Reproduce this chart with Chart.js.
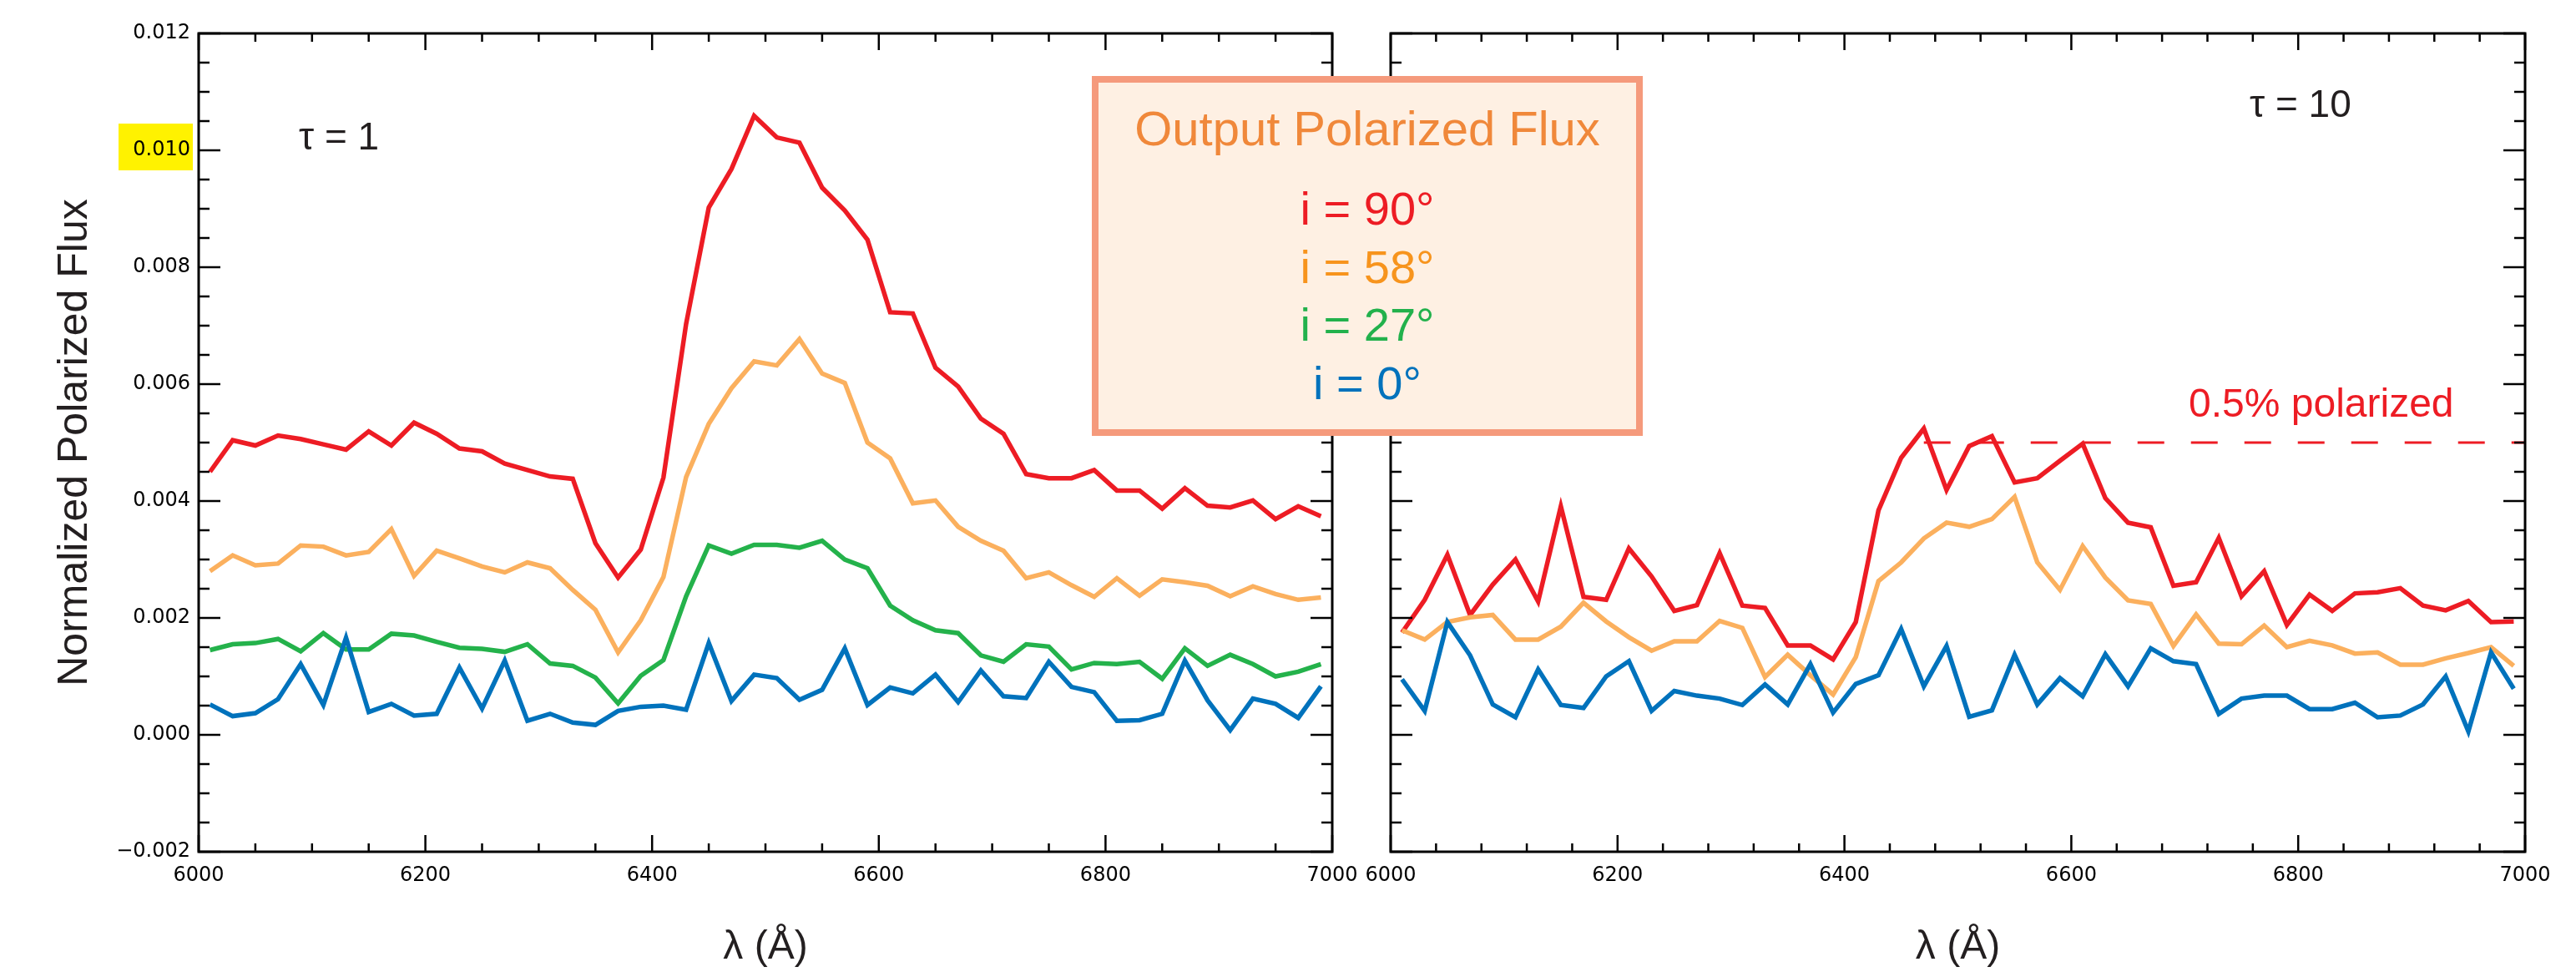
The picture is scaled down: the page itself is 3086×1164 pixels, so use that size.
<!DOCTYPE html>
<html>
<head>
<meta charset="utf-8">
<title>Output Polarized Flux</title>
<script src="https://cdn.jsdelivr.net/npm/chart.js@4.4.1/dist/chart.umd.min.js"></script>
<style>
  html, body { margin: 0; padding: 0; background: #fff; }
  #wrap { position: relative; width: 3086px; height: 1164px; overflow: hidden; font-family: "Liberation Sans", Arial, sans-serif; }
  #wrap canvas { position: absolute; left: 0; top: 0; }
  .note { position: absolute; white-space: nowrap; line-height: 1; }
  #legend { position: absolute; left: 1308px; top: 91px; width: 660px; height: 431px; box-sizing: border-box;
            border: 8px solid #f59a7c; background: #fef0e3; }
  #legend div { position: absolute; left: 0; width: 100%; text-align: center; line-height: 1; white-space: nowrap; }
</style>
</head>
<body>
<div id="wrap">
  <canvas id="tau1Chart" width="3086" height="1164"></canvas>
  <canvas id="tau10Chart" width="3086" height="1164"></canvas>

  <div class="note" style="left:358px; top:140px; font-size:46px; color:#231f20;">&tau; = 1</div>
  <div class="note" style="left:2695px; top:101px; font-size:46px; color:#231f20;">&tau; = 10</div>
  <div class="note" style="left:2622px; top:459px; font-size:48px; color:#ed1c24;">0.5% polarized</div>

  <div id="legend">
    <div style="top:26px; font-size:58px; color:#f0883a;">Output Polarized Flux</div>
    <div style="top:123px; font-size:56px; color:#ed1c24;">i = 90&deg;</div>
    <div style="top:193px; font-size:56px; color:#f7941d;">i = 58&deg;</div>
    <div style="top:262px; font-size:56px; color:#22b14c;">i = 27&deg;</div>
    <div style="top:332px; font-size:56px; color:#0072bc;">i = 0&deg;</div>
  </div>
</div>

<script>
// Wavelength grid (Å)
const wavelengths = [
  6010, 6030, 6050, 6070, 6090, 6110, 6130, 6150, 6170, 6190,
  6210, 6230, 6250, 6270, 6290, 6310, 6330, 6350, 6370, 6390,
  6410, 6430, 6450, 6470, 6490, 6510, 6530, 6550, 6570, 6590,
  6610, 6630, 6650, 6670, 6690, 6710, 6730, 6750, 6770, 6790,
  6810, 6830, 6850, 6870, 6890, 6910, 6930, 6950, 6970, 6990
];

// tau = 1 panel
const tau1_i90 = [
  0.00450, 0.00504, 0.00495, 0.00512, 0.00506, 0.00497, 0.00488, 0.00519, 0.00495, 0.00534,
  0.00515, 0.00490, 0.00485, 0.00464, 0.00453, 0.00442, 0.00438, 0.00328, 0.00269, 0.00317,
  0.00440, 0.00703, 0.00902, 0.00968, 0.01059, 0.01022, 0.01013, 0.00936, 0.00897, 0.00847,
  0.00723, 0.00721, 0.00628, 0.00596, 0.00541, 0.00515, 0.00446, 0.00439, 0.00439, 0.00453,
  0.00418, 0.00418, 0.00387, 0.00422, 0.00392, 0.00389, 0.00401, 0.00369, 0.00391, 0.00374
];
const tau1_i58 = [
  0.00280, 0.00307, 0.00290, 0.00293, 0.00324, 0.00322, 0.00307, 0.00313, 0.00352, 0.00272,
  0.00315, 0.00302, 0.00288, 0.00278, 0.00295, 0.00285, 0.00248, 0.00214, 0.00141, 0.00196,
  0.00270, 0.00441, 0.00532, 0.00593, 0.00639, 0.00632, 0.00677, 0.00618, 0.00602, 0.00500,
  0.00473, 0.00396, 0.00401, 0.00356, 0.00332, 0.00315, 0.00268, 0.00278, 0.00256, 0.00236,
  0.00268, 0.00238, 0.00266, 0.00261, 0.00255, 0.00237, 0.00254, 0.00241, 0.00231, 0.00235
];
const tau1_i27 = [
  0.00145, 0.00155, 0.00157, 0.00164, 0.00143, 0.00174, 0.00146, 0.00146, 0.00173, 0.00170,
  0.00159, 0.00149, 0.00147, 0.00142, 0.00155, 0.00122, 0.00118, 0.00098, 0.00054, 0.00101,
  0.00128, 0.00237, 0.00324, 0.00310, 0.00325, 0.00325, 0.00320, 0.00332, 0.00300, 0.00285,
  0.00221, 0.00196, 0.00179, 0.00174, 0.00136, 0.00125, 0.00155, 0.00151, 0.00112, 0.00123,
  0.00121, 0.00125, 0.00096, 0.00148, 0.00118, 0.00137, 0.00121, 0.00100, 0.00108, 0.00121
];
const tau1_i0 = [
  0.00052, 0.00032, 0.00037, 0.00061, 0.00121, 0.00051, 0.00166, 0.00039, 0.00053, 0.00033,
  0.00036, 0.00115, 0.00045, 0.00127, 0.00024, 0.00036, 0.00021, 0.00017, 0.00041, 0.00048,
  0.00050, 0.00043, 0.00157, 0.00058, 0.00103, 0.00097, 0.00060, 0.00077, 0.00148, 0.00051,
  0.00081, 0.00071, 0.00103, 0.00056, 0.00110, 0.00066, 0.00063, 0.00125, 0.00082, 0.00073,
  0.00024, 0.00025, 0.00036, 0.00127, 0.00059, 0.00008, 0.00062, 0.00053, 0.00029, 0.00083
];

// tau = 10 panel
const tau10_i90 = [
  0.00175, 0.00231, 0.00308, 0.00205, 0.00257, 0.00300, 0.00228, 0.00391, 0.00236, 0.00231,
  0.00319, 0.00271, 0.00212, 0.00222, 0.00311, 0.00221, 0.00217, 0.00153, 0.00153, 0.00129,
  0.00193, 0.00384, 0.00474, 0.00524, 0.00419, 0.00494, 0.00511, 0.00432, 0.00439, 0.00469,
  0.00498, 0.00405, 0.00363, 0.00355, 0.00255, 0.00261, 0.00337, 0.00237, 0.00280, 0.00188,
  0.00240, 0.00212, 0.00242, 0.00244, 0.00251, 0.00221, 0.00213, 0.00229, 0.00193, 0.00194
];
const tau10_i58 = [
  0.00179, 0.00163, 0.00193, 0.00201, 0.00205, 0.00163, 0.00163, 0.00185, 0.00226, 0.00194,
  0.00167, 0.00144, 0.00160, 0.00160, 0.00195, 0.00183, 0.00099, 0.00137, 0.00102, 0.00069,
  0.00133, 0.00263, 0.00295, 0.00336, 0.00363, 0.00356, 0.00369, 0.00407, 0.00295, 0.00248,
  0.00323, 0.00269, 0.00230, 0.00224, 0.00152, 0.00206, 0.00156, 0.00155, 0.00187, 0.00150,
  0.00161, 0.00153, 0.00139, 0.00141, 0.00120, 0.00120, 0.00131, 0.00140, 0.00150, 0.00118
];
const tau10_i0 = [
  0.00095, 0.00041, 0.00193, 0.00136, 0.00052, 0.00030, 0.00112, 0.00051, 0.00046, 0.00100,
  0.00126, 0.00041, 0.00075, 0.00067, 0.00062, 0.00051, 0.00086, 0.00052, 0.00121, 0.00038,
  0.00087, 0.00102, 0.00181, 0.00083, 0.00152, 0.00031, 0.00042, 0.00137, 0.00052, 0.00097,
  0.00066, 0.00138, 0.00083, 0.00148, 0.00126, 0.00121, 0.00036, 0.00062, 0.00067, 0.00067,
  0.00044, 0.00044, 0.00055, 0.00030, 0.00033, 0.00052, 0.00100, 0.00006, 0.00141, 0.00079
];

// 0.5% polarized reference level (tau = 10)
const refLevelX = [6470, 7000];
const refLevelY = [0.005, 0.005];

// axes
const xRange = [6000, 7000];
const yRange = [-0.002, 0.012];
const highlightedTick = 0.010;

const colors = { i90: '#ed1c24', i58: '#fbb05e', i27: '#24b24b', i0: '#0072bc' };

const points = (xs, ys) => xs.map((x, i) => ({ x: x, y: ys[i] }));

const line = (label, values, color, order) => ({
    label: label,
    data: points(wavelengths, values),
    borderColor: color,
    borderWidth: 5.5,
    pointRadius: 0,
    tension: 0,
    fill: false,
    order: order
});

// Inward ticks on all four sides plus the box
const framePlugin = {
    id: 'frame',
    afterDatasetsDraw(chart, args, opts) {
        const { ctx, chartArea: a, scales: { x, y } } = chart;
        ctx.save();
        ctx.strokeStyle = '#000';
        ctx.lineWidth = 2.5;
        ctx.beginPath();
        const nx = Math.round((x.max - x.min) / opts.xMinor);
        for (let k = 0; k <= nx; k++) {
            const v = x.min + k * opts.xMinor;
            const px = x.getPixelForValue(v);
            const len = Math.round(v - x.min) % 200 === 0 ? 20 : 10;
            ctx.moveTo(px, a.bottom); ctx.lineTo(px, a.bottom - len);
            ctx.moveTo(px, a.top); ctx.lineTo(px, a.top + len);
        }
        const ny = Math.round((y.max - y.min) / 0.0005);
        for (let k = 0; k <= ny; k++) {
            const py = y.getPixelForValue(y.min + k * 0.0005);
            const len = k % 4 === 0 ? 26 : 13;
            ctx.moveTo(a.left, py); ctx.lineTo(a.left + len, py);
            ctx.moveTo(a.right, py); ctx.lineTo(a.right - len, py);
        }
        ctx.stroke();
        ctx.lineWidth = 3;
        ctx.strokeRect(a.left, a.top, a.right - a.left, a.bottom - a.top);
        ctx.restore();
    }
};

// Yellow box behind the 0.010 tick label
const highlightPlugin = {
    id: 'highlight',
    beforeDraw(chart, args, opts) {
        if (!opts.enabled) return;
        const { ctx, chartArea: a, scales: { y } } = chart;
        const py = y.getPixelForValue(highlightedTick);
        ctx.save();
        ctx.fillStyle = '#fff200';
        ctx.fillRect(a.left - 96, py - 32, 89, 56);
        ctx.restore();
    }
};

Chart.defaults.font.family = '"DejaVu Sans", sans-serif';
Chart.defaults.color = '#000';

function makeOptions(isLeft, xMinor) {
    return {
        responsive: false,
        animation: false,
        events: [],
        layout: { padding: { left: 0, top: 40, right: isLeft ? 3086 - 1596 : 61, bottom: 0 } },
        plugins: {
            legend: { display: false },
            tooltip: { enabled: false },
            frame: { xMinor: xMinor },
            highlight: { enabled: isLeft }
        },
        scales: {
            x: {
                type: 'linear',
                min: xRange[0],
                max: xRange[1],
                grid: { display: false, drawTicks: false },
                border: { display: false },
                ticks: {
                    stepSize: 200,
                    autoSkip: false,
                    maxRotation: 0,
                    padding: 14,
                    font: { size: 24 },
                    callback: (v) => String(v)
                },
                title: {
                    display: true,
                    text: 'λ (Å)',
                    color: '#231f20',
                    font: { family: '"Liberation Sans", Arial, sans-serif', size: 48 },
                    padding: { top: 0, bottom: 0 }
                },
                afterFit: (scale) => { scale.height = 144; }
            },
            y: {
                min: yRange[0],
                max: yRange[1],
                grid: { display: false, drawTicks: false },
                border: { display: false },
                ticks: {
                    display: isLeft,
                    stepSize: 0.002,
                    padding: 10,
                    font: { size: 24 },
                    callback: (v) => (v < 0 ? '\u2212' : '') + Math.abs(v).toFixed(3)
                },
                title: {
                    display: isLeft,
                    text: 'Normalized Polarized Flux',
                    color: '#231f20',
                    font: { family: '"Liberation Sans", Arial, sans-serif', size: 50 },
                    padding: { top: 60, bottom: 0 }
                },
                afterFit: (scale) => { scale.width = isLeft ? 238 : 1666; }
            }
        }
    };
}

new Chart(document.getElementById('tau1Chart'), {
    type: 'line',
    data: {
        datasets: [
            line('i = 90°', tau1_i90, colors.i90, 3),
            line('i = 58°', tau1_i58, colors.i58, 2),
            line('i = 27°', tau1_i27, colors.i27, 1),
            line('i = 0°', tau1_i0, colors.i0, 0)
        ]
    },
    options: makeOptions(true, 50),
    plugins: [framePlugin, highlightPlugin]
});

new Chart(document.getElementById('tau10Chart'), {
    type: 'line',
    data: {
        datasets: [
            {
                label: '0.5% polarized',
                data: points(refLevelX, refLevelY),
                borderColor: colors.i90,
                borderWidth: 3,
                borderDash: [32, 32],
                pointRadius: 0,
                fill: false,
                order: 4
            },
            line('i = 90°', tau10_i90, colors.i90, 3),
            line('i = 58°', tau10_i58, colors.i58, 2),
            line('i = 0°', tau10_i0, colors.i0, 0)
        ]
    },
    options: makeOptions(false, 40),
    plugins: [framePlugin, highlightPlugin]
});
</script>
</body>
</html>
